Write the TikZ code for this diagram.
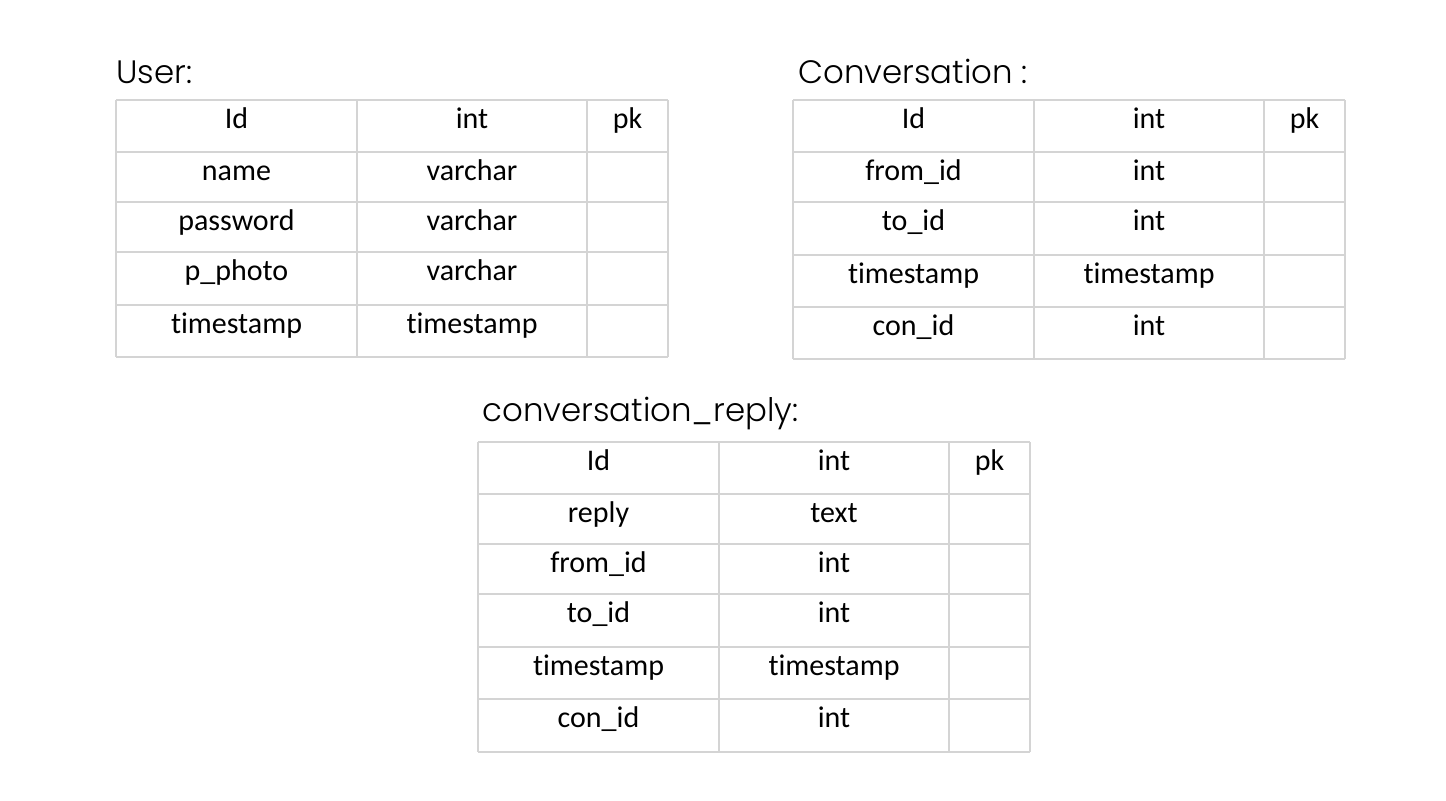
\documentclass[tikz,border=0pt]{standalone}
\usepackage{fontspec}
\setmainfont{Carlito}[Ligatures=NoCommon]
\newfontfamily\titlefont{Poppins Light}
\definecolor{gridgray}{HTML}{D4D4D4}
\tikzset{
  gridline/.style={draw=gridgray, line width=0.7pt},
  cell/.style={anchor=base, inner sep=0pt, font=\fontsize{15}{18}\selectfont},
  tabtitle/.style={anchor=base west, inner sep=0pt, font=\titlefont\fontsize{16.2}{19}\selectfont},
}
\begin{document}
\begin{tikzpicture}[x=0.5pt,y=-0.5pt]
\fill[white] (0,0) rectangle (1446,800);
\useasboundingbox (0,0) rectangle (1446,800);

% ---- User ----
\node[tabtitle] (userTitle) at (116,83) {User:};
\foreach \y in {100,152,202,252,305,357} \draw[gridline] (116,\y) -- (668,\y);
\foreach \x in {116,357,587,668} \draw[gridline] (\x,100) -- (\x,357);
\foreach \n/\t/\k/\y [count=\i] in {Id/int/pk/100, name/varchar//152, password/varchar//202, p\_photo/varchar//252, timestamp/timestamp//305}{
  \node[cell] (user-n\i) at (236.5,\y+28.5) {\n};
  \node[cell] (user-t\i) at (472,\y+28.5) {\t};
  \node[cell] (user-k\i) at (627.5,\y+28.5) {\k};
}

% ---- Conversation ----
\node[tabtitle] (convTitle) at (798,83) {Conversation :};
\foreach \y in {100,152,202,255,307,359} \draw[gridline] (793,\y) -- (1345,\y);
\foreach \x in {793,1034,1264,1345} \draw[gridline] (\x,100) -- (\x,359);
\foreach \n/\t/\k/\y [count=\i] in {Id/int/pk/100, from\_id/int//152, to\_id/int//202, timestamp/timestamp//255, con\_id/int//307}{
  \node[cell] (conv-n\i) at (913.5,\y+28.5) {\n};
  \node[cell] (conv-t\i) at (1149,\y+28.5) {\t};
  \node[cell] (conv-k\i) at (1304.5,\y+28.5) {\k};
}

% ---- conversation_reply ----
\node[tabtitle] (replyTitle) at (482,421) {conversation\_reply:};
\foreach \y in {442,494,544,594,647,699,752} \draw[gridline] (478,\y) -- (1030,\y);
\foreach \x in {478,719,949,1030} \draw[gridline] (\x,442) -- (\x,752);
\foreach \n/\t/\k/\y [count=\i] in {Id/int/pk/442, reply/text//494, from\_id/int//544, to\_id/int//594, timestamp/timestamp//647, con\_id/int//699}{
  \node[cell] (reply-n\i) at (598.5,\y+28.5) {\n};
  \node[cell] (reply-t\i) at (834,\y+28.5) {\t};
  \node[cell] (reply-k\i) at (989.5,\y+28.5) {\k};
}
\end{tikzpicture}
\end{document}
